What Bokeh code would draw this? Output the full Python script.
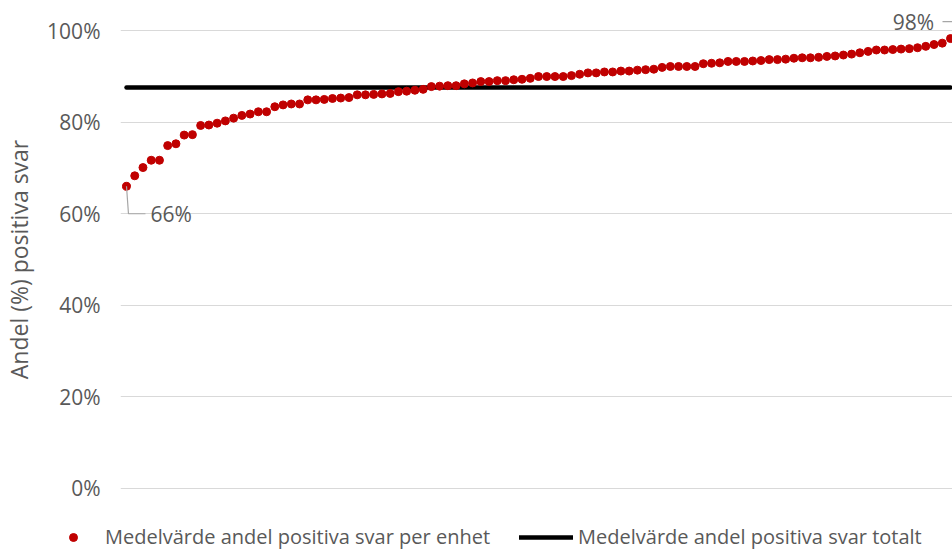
from bokeh.plotting import figure
from bokeh.layouts import column
from bokeh.models import Range1d, FixedTicker, Label, Legend, LegendItem
from bokeh.embed import file_html
from bokeh.resources import INLINE

# Share (%) of positive answers per unit, sorted ascending
unit_values = [
    66.0, 68.3, 70.1, 71.7, 71.7, 74.9, 75.3, 77.2, 77.3, 79.3, 79.4, 79.8, 80.3, 80.9, 81.5, 81.8, 82.3,
    82.3, 83.4, 83.8, 84.0, 84.0, 84.9, 84.9, 85.0, 85.2, 85.3, 85.4, 86.0, 86.0, 86.1, 86.2,
    86.3, 86.7, 86.8, 87.0, 87.2, 87.8, 87.9, 88.0, 88.0, 88.4, 88.6, 88.9, 88.9, 89.1, 89.1, 89.3,
    89.4, 89.6, 90.0, 90.0, 90.0, 90.0, 90.2, 90.5, 90.8, 90.8, 91.0, 91.0, 91.2, 91.2, 91.4, 91.5,
    91.6, 92.0, 92.2, 92.2, 92.2, 92.2, 92.8, 92.9, 93.0, 93.3, 93.3, 93.3, 93.4, 93.5, 93.7,
    93.7, 93.8, 94.0, 94.1, 94.1, 94.2, 94.4, 94.5, 94.7, 94.9, 95.2, 95.5, 95.8, 95.8, 95.9, 96.0,
    96.1, 96.3, 96.6, 97.0, 97.3, 98.3,
]
unit_positions = list(range(1, len(unit_values) + 1))
average_total = 87.6

y_ticks = [0, 20, 40, 60, 80, 100]
y_tick_labels = ["0%", "20%", "40%", "60%", "80%", "100%"]
axis_title = "Andel (%) positiva svar"
legend_labels = ["Medelvärde andel positiva svar per enhet", "Medelvärde andel positiva svar totalt"]

FONT = "Open Sans"
TEXT = "#595959"
RED = "#C00000"

p = figure(width=952, height=506, output_backend="svg", toolbar_location=None,
           x_range=Range1d(0.272, 101.243), y_range=Range1d(-4, 104),
           x_axis_location=None,
           min_border_left=120, min_border_right=0, min_border_top=12, min_border_bottom=0)
p.frame_align = False
p.outline_line_color = None
p.background_fill_color = "white"
p.border_fill_color = "white"

ticker = FixedTicker(ticks=y_ticks)
p.yaxis.ticker = ticker
p.yaxis.major_label_overrides = dict(zip(y_ticks, y_tick_labels))
p.yaxis.axis_line_color = None
p.yaxis.major_tick_line_color = None
p.yaxis.minor_tick_line_color = None
p.yaxis.major_tick_out = 0
p.yaxis.major_tick_in = 0
p.yaxis.major_label_standoff = 20
p.yaxis.major_label_text_font = FONT
p.yaxis.major_label_text_font_size = "21px"
p.yaxis.major_label_text_color = TEXT
p.yaxis.axis_label = axis_title
p.yaxis.axis_label_text_font = FONT
p.yaxis.axis_label_text_font_size = "23px"
p.yaxis.axis_label_text_font_style = "normal"
p.yaxis.axis_label_text_color = TEXT
p.yaxis.axis_label_standoff = 9
p.ygrid.ticker = ticker
p.ygrid.grid_line_color = "#d9d9d9"
p.ygrid.grid_line_width = 1.2
p.xgrid.visible = False

line_style = dict(line_width=4.5, line_color="black", line_cap="round")
dot_style = dict(size=8, fill_color=RED, line_color=RED)

p.line([unit_positions[0], unit_positions[-1]], [average_total, average_total], **line_style)
p.scatter(unit_positions, unit_values, **dot_style)

# data labels with leader lines (derived from first/last point)
x0, v0 = unit_positions[0], unit_values[0]
p.line([x0, x0 + 0.24, x0 + 2.3], [v0, v0 - 6.0, v0 - 6.0], line_color="#a6a6a6", line_width=1.2)
p.add_layout(Label(x=x0 + 2.9, y=v0 - 6.0, text=f"{round(v0)}%", text_font=FONT,
                   text_font_size="21px", text_color=TEXT, text_baseline="middle", text_align="left"))

xn, vn = unit_positions[-1], unit_values[-1]
p.line([xn - 0.97, xn + 0.6, xn + 0.6], [vn + 3.7, vn + 3.7, vn], line_color="#a6a6a6", line_width=1.2)
p.add_layout(Label(x=xn - 2.0, y=vn + 3.7, text=f"{round(vn)}%", text_font=FONT,
                   text_font_size="21px", text_color=TEXT, text_baseline="middle", text_align="right"))

# legend strip below the chart (swatch renderers sit outside the visible range)
lg = figure(width=952, height=44, output_backend="svg", toolbar_location=None,
            x_range=Range1d(0, 1), y_range=Range1d(0, 1),
            x_axis_location=None, y_axis_location=None, min_border=0)
lg.frame_align = False
lg.outline_line_color = None
lg.grid.visible = False
leg_dots = lg.scatter([-10], [-10], **dot_style)
leg_line = lg.line([-10, -9], [-10, -10], **line_style)
legend = Legend(items=[LegendItem(label=legend_labels[0], renderers=[leg_dots]),
                       LegendItem(label=legend_labels[1], renderers=[leg_line])],
                orientation="horizontal", location=(46, 0),
                label_text_font=FONT, label_text_font_size="20px", label_text_color=TEXT,
                glyph_width=54, glyph_height=20, label_height=20, label_standoff=5,
                spacing=29, padding=0, margin=0,
                background_fill_alpha=0, border_line_alpha=0)
lg.add_layout(legend, "center")

layout = column(p, lg, spacing=0)
open("out.html", "w").write(file_html(layout, INLINE))
